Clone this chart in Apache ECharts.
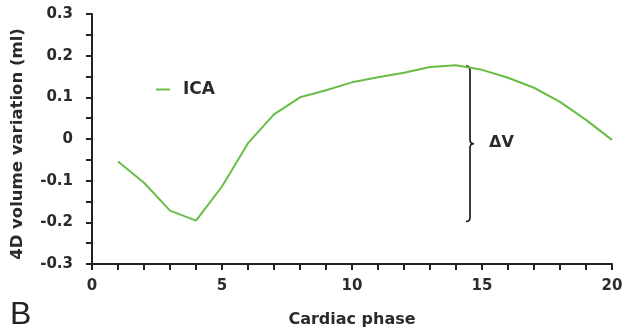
<!DOCTYPE html>
<html><head><meta charset="utf-8">
<script src="https://cdn.jsdelivr.net/npm/echarts@6/dist/echarts.min.js"></script>
<style>html,body{margin:0;padding:0;background:#fff}#c{width:630px;height:333px}</style>
</head><body><div id="c"></div>
<script>
const phases = [1,2,3,4,5,6,7,8,9,10,11,12,13,14,15,16,17,18,19,20];
const icaValues = [-0.054,-0.105,-0.172,-0.196,-0.114,-0.010,0.059,0.100,0.117,0.136,0.148,0.159,0.173,0.177,0.166,0.147,0.123,0.089,0.046,-0.002];
const braceX = 14.5;
const braceTop = 0.175;
const braceBottom = -0.198;
const braceLabel = 'ΔV';
const seriesName = 'ICA';

const FONT = 'DejaVu Sans';
const TXT = '#2a2a2a';
const chart = echarts.init(document.getElementById('c'), null, {renderer:'canvas'});
chart.setOption({
  animation:false,
  backgroundColor:'#fff',
  grid:{left:92,right:18,top:14,bottom:69},
  legend:{
    left:151, top:76, icon:'rect', itemWidth:14, itemHeight:2,
    data:[seriesName],
    textStyle:{fontFamily:FONT,fontWeight:'bold',fontSize:17,color:TXT,padding:[0,0,0,8]}
  },
  xAxis:{
    type:'value', min:0, max:20, interval:5,
    name:'Cardiac phase', nameLocation:'middle', nameGap:48,
    nameTextStyle:{fontFamily:FONT,fontWeight:'bold',fontSize:16,color:TXT},
    axisLine:{onZero:false,lineStyle:{color:'#222',width:2}},
    axisTick:{show:true,length:6,lineStyle:{color:'#222',width:2}},
    minorTick:{show:true,splitNumber:5,length:6,lineStyle:{color:'#222',width:2}},
    splitLine:{show:false},
    axisLabel:{fontFamily:FONT,fontWeight:'bold',fontSize:15,color:TXT,margin:15}
  },
  yAxis:{
    type:'value', min:-0.3, max:0.3, interval:0.1,
    name:'4D volume variation (ml)', nameLocation:'middle', nameGap:66,
    nameTextStyle:{fontFamily:FONT,fontWeight:'bold',fontSize:16.5,color:TXT,padding:[0,10,0,0]},
    axisLine:{show:true,onZero:false,lineStyle:{color:'#222',width:2}},
    axisTick:{show:true,length:6,lineStyle:{color:'#222',width:2}},
    minorTick:{show:true,splitNumber:2,length:6,lineStyle:{color:'#222',width:2}},
    splitLine:{show:false},
    axisLabel:{fontFamily:FONT,fontWeight:'bold',fontSize:15,color:TXT,margin:19,
      formatter:v=>{const r=Math.round(v*10)/10; return r===0?'0':String(r);}}
  },
  graphic:[{type:'text',left:10,top:299,style:{text:'B',fontFamily:'Liberation Sans',fontSize:32,fill:'#222'}}],
  series:[
    {name:seriesName,type:'line',symbol:'none',color:'#68bd47',
     lineStyle:{width:2,color:'#68bd47'},
     data:phases.map((p,i)=>[p,icaValues[i]])},
    {type:'custom',silent:true,
     data:[[braceX,braceTop,braceBottom]],
     renderItem:function(params,api){
       const t=api.coord([api.value(0),api.value(1)]);
       const b=api.coord([api.value(0),api.value(2)]);
       const x=t[0]+1, y1=t[1], y2=b[1], ym=(y1+y2)/2;
       const p = `M${x-4},${y1} Q${x},${y1} ${x},${y1+4} L${x},${ym-4} Q${x},${ym} ${x+4},${ym} Q${x},${ym} ${x},${ym+4} L${x},${y2-4} Q${x},${y2} ${x-4},${y2}`;
       return {type:'group',children:[
         {type:'path',shape:{pathData:p},style:{stroke:'#111',lineWidth:1.6,fill:null}},
         {type:'text',style:{text:braceLabel,x:x+19,y:ym-1,verticalAlign:'middle',fontFamily:FONT,fontWeight:'bold',fontSize:16,fill:TXT}}
       ]};
     }}
  ]
});
</script></body></html>
